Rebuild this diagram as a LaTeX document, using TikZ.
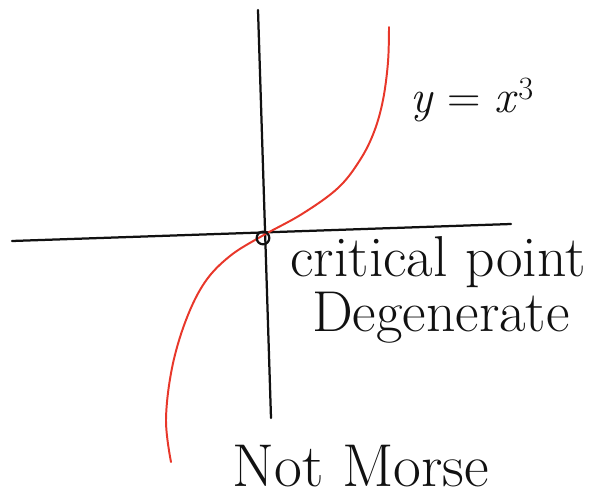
\documentclass[tikz,border=0pt]{standalone}
\usepackage{xcolor}
\usepackage{tikz}
\definecolor{ink}{HTML}{111111}
\definecolor{pen}{HTML}{E8372A}
\newcommand{\hand}[2][34]{{\fontsize{#1}{#1}\selectfont #2}}

\begin{document}
\begin{tikzpicture}[x=0.025cm, y=-0.025cm,
    axis/.style={draw=ink, line width=1.6pt, line cap=round},
    curve/.style={draw=pen, line width=1.4pt, line cap=round},
    label/.style={text=ink, inner sep=0pt, anchor=center}
  ]
    \useasboundingbox (0,0) rectangle (599,500);
    % axes
    \coordinate (xl) at (12,241);
    \coordinate (xr) at (511,224);
    \coordinate (yt) at (258,10);
    \coordinate (yb) at (271,418);
    \draw[axis] (xl) -- (xr);
    \draw[axis] (yt) -- (yb);
    % the cubic
    \draw[curve] plot[smooth, tension=0.6] coordinates {(389,27) (388,62) (383,100) (374,132) (360,160) (338,188) (302,214) (262,236) (230,256) (205,282) (186,320) (172,368) (166,420) (171,462)};
    \node[draw=ink, line width=1.6pt, circle, inner sep=0pt, minimum size=9pt] (origin) at (263,238) {};
    % labels
    \node[label] (eq) at (472,100) {\hand[33]{\textit{y} = \textit{x}\textsuperscript{3}}};
    \node[label] (crit) at (438,262) {\hand[41]{critical point}};
    \node[label] (degen) at (441,318) {\hand[41]{Degenerate}};
    \node[label] (morse) at (361,466) {\hand[43]{Not Morse}};
  \end{tikzpicture}
\end{document}
